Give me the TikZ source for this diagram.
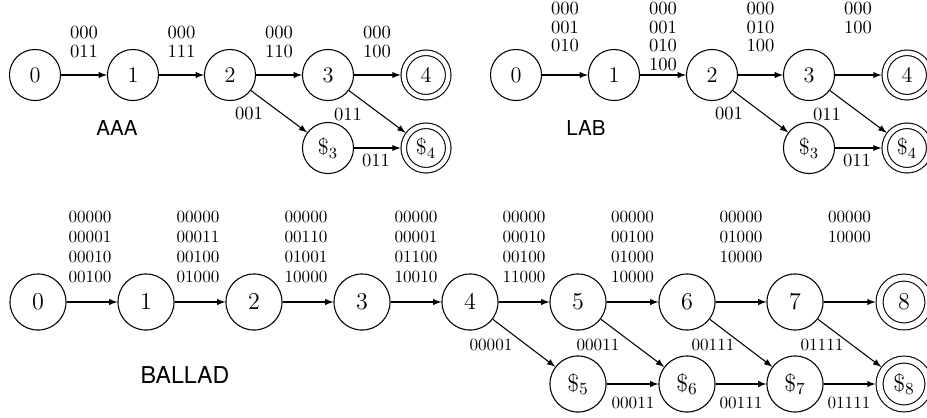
\RequirePackage{fix-cm}
\documentclass[tikz,border=0pt]{standalone}
\usepackage{amsmath}
\usepackage{fontspec}
\setsansfont{TeX Gyre Heros}
\usepackage{tikz}

\begin{document}
\begin{tikzpicture}[x=0.56pt, y=-0.56pt, main/.style={draw, circle, minimum size=28.6pt, inner sep=0pt, line width=0.6pt, font=\fontsize{12.5}{14}\selectfont}, acc/.style={main, double, double distance=2.5pt, minimum size=24.9pt, outer sep=1.85pt}, lbl/.style={align=center, inner sep=0pt, font=\fontsize{10.4}{10.36}\selectfont}, title/.style={inner sep=0pt, font=\sffamily\fontsize{11.5}{13}\selectfont}, n/.style={-latex, line width=0.6pt}]
            \useasboundingbox (0,0) rectangle (927,417);
            % nodes AAA
            \node[main] (a0) at (35,75) {$0$};
            \node[main] (a1) at (133,75) {$1$};
            \node[main] (a2) at (230,75) {$2$};
            \node[main] (a3) at (328,75) {$3$};
            \node[acc] (a4) at (426,75) {$4$};
            \node[main] (as3) at (328,148) {$\$_3$};
            \node[acc] (as4) at (426,148) {$\$_4$};
            \node[title] (aname) at (117,128) {AAA};

            \node[lbl, anchor=north] (la01) at (84,26) {000\\011};
            \node[lbl, anchor=north] (la12) at (181.5,26) {000\\111};
            \node[lbl, anchor=north] (la23) at (279,26) {000\\110};
            \node[lbl, anchor=north] (la34) at (377,26) {000\\100};
            \node[lbl] (la2s) at (249,114) {001};
            \node[lbl] (la3s) at (348,115) {011};
            \node[lbl] (lass) at (376,161) {011};

            % nodes LAB
            \node[main] (l0) at (516,75) {$0$};
            \node[main] (l1) at (614,75) {$1$};
            \node[main] (l2) at (712,75) {$2$};
            \node[main] (l3) at (809,75) {$3$};
            \node[acc] (l4) at (907,75) {$4$};
            \node[main] (ls3) at (809,148) {$\$_3$};
            \node[acc] (ls4) at (907,148) {$\$_4$};
            \node[title] (lname) at (586,128) {LAB};

            \node[lbl, anchor=north] (ll01) at (565,2) {000\\001\\010};
            \node[lbl, anchor=north] (ll12) at (663,2) {000\\001\\010\\100};
            \node[lbl, anchor=north] (ll23) at (760.5,2) {000\\010\\100};
            \node[lbl, anchor=north] (ll34) at (858,2) {000\\100};
            \node[lbl] (ll2s) at (729,114) {001};
            \node[lbl] (ll3s) at (827,115) {011};
            \node[lbl] (llss) at (857,161) {011};

            % edges AAA
            \draw [n] (a0) -- (a1);
            \draw [n] (a1) -- (a2);
            \draw [n] (a2) -- (a3);
            \draw [n] (a3) -- (a4);
            \draw [n] (a2) -- (as3);
            \draw [n] (a3) -- (as4);
            \draw [n] (as3) -- (as4);

            % edges LAB
            \draw [n] (l0) -- (l1);
            \draw [n] (l1) -- (l2);
            \draw [n] (l2) -- (l3);
            \draw [n] (l3) -- (l4);
            \draw [n] (l2) -- (ls3);
            \draw [n] (l3) -- (ls4);
            \draw [n] (ls3) -- (ls4);

            \begin{scope}[main/.style={draw, circle, minimum size=31.4pt, inner sep=0pt, line width=0.6pt, font=\fontsize{13.5}{15}\selectfont}, acc/.style={main, double, double distance=3.3pt, minimum size=27.4pt, outer sep=2.25pt}, lbl/.style={align=center, inner sep=0pt, font=\fontsize{9.6}{11.2}\selectfont}, title/.style={inner sep=0pt, font=\sffamily\fontsize{13}{15}\selectfont}]
            % nodes BALLAD
            \node[main] (b0) at (38,302) {$0$};
            \node[main] (b1) at (146,302) {$1$};
            \node[main] (b2) at (254,302) {$2$};
            \node[main] (b3) at (362,302) {$3$};
            \node[main] (b4) at (470,302) {$4$};
            \node[main] (b5) at (578,302) {$5$};
            \node[main] (b6) at (687,302) {$6$};
            \node[main] (b7) at (795,302) {$7$};
            \node[acc] (b8) at (904,302) {$8$};
            \node[main] (bs5) at (578,384) {$\$_5$};
            \node[main] (bs6) at (687,384) {$\$_6$};
            \node[main] (bs7) at (795,384) {$\$_7$};
            \node[acc] (bs8) at (904,384) {$\$_8$};
            \node[title] (bname) at (185,375) {BALLAD};

            \node[lbl, anchor=north] (lb01) at (90,210.5) {00000\\00001\\00010\\00100};
            \node[lbl, anchor=north] (lb12) at (198,210.5) {00000\\00011\\00100\\01000};
            \node[lbl, anchor=north] (lb23) at (306,210.5) {00000\\00110\\01001\\10000};
            \node[lbl, anchor=north] (lb34) at (416,210.5) {00000\\00001\\01100\\10010};
            \node[lbl, anchor=north] (lb45) at (524,210.5) {00000\\00010\\00100\\11000};
            \node[lbl, anchor=north] (lb56) at (632.5,210.5) {00000\\00100\\01000\\10000};
            \node[lbl, anchor=north] (lb67) at (741,210.5) {00000\\01000\\10000};
            \node[lbl, anchor=north] (lb78) at (849.5,210.5) {00000\\10000};
            \node[lbl] (lb4s) at (491,345) {00001};
            \node[lbl] (lb5s) at (598,345) {00011};
            \node[lbl] (lb6s) at (713,345) {00111};
            \node[lbl] (lb7s) at (822,345) {01111};
            \node[lbl] (lbs56) at (633,403) {00011};
            \node[lbl] (lbs67) at (741,403) {00111};
            \node[lbl] (lbs78) at (849,403) {01111};

            % edges BALLAD
            \draw [n] (b0) -- (b1);
            \draw [n] (b1) -- (b2);
            \draw [n] (b2) -- (b3);
            \draw [n] (b3) -- (b4);
            \draw [n] (b4) -- (b5);
            \draw [n] (b5) -- (b6);
            \draw [n] (b6) -- (b7);
            \draw [n] (b7) -- (b8);
            \draw [n] (b4) -- (bs5);
            \draw [n] (b5) -- (bs6);
            \draw [n] (b6) -- (bs7);
            \draw [n] (b7) -- (bs8);
            \draw [n] (bs5) -- (bs6);
            \draw [n] (bs6) -- (bs7);
            \draw [n] (bs7) -- (bs8);
            \end{scope}
        \end{tikzpicture}
\end{document}
